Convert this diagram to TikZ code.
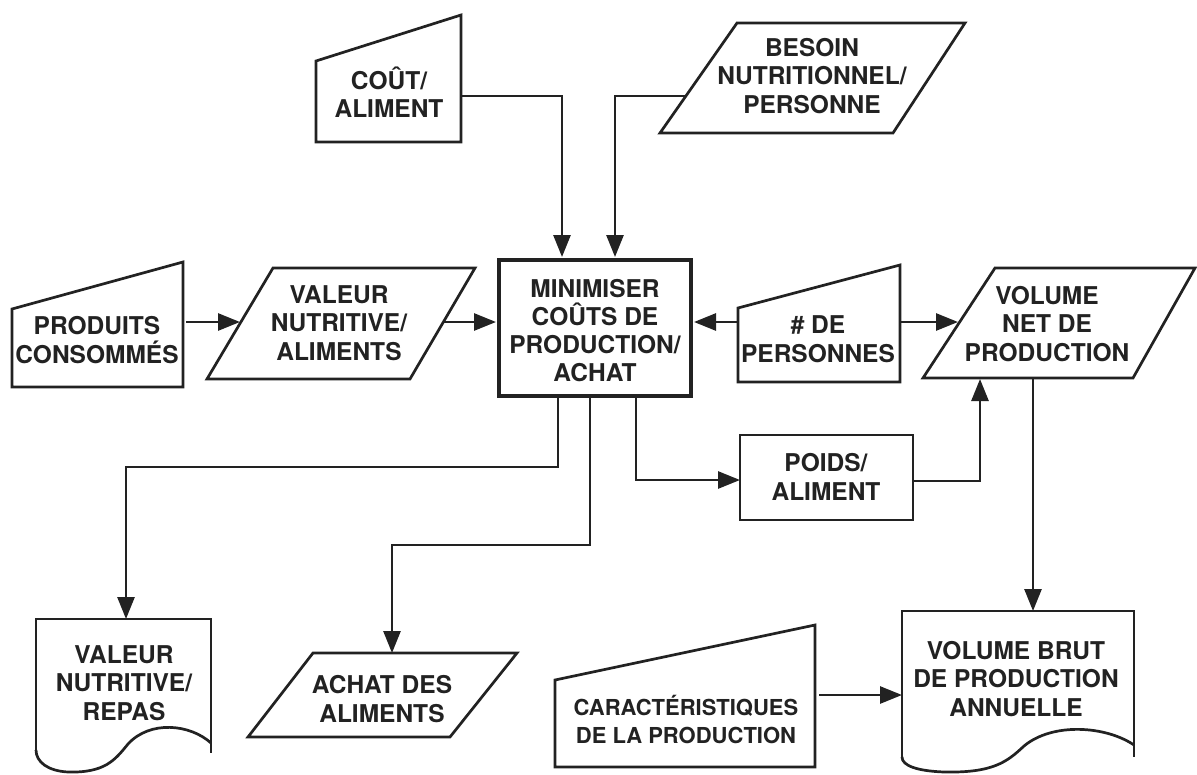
\documentclass[tikz,border=0pt]{standalone}
\usepackage{fontspec}
\setmainfont{TeX Gyre Heros}
\usetikzlibrary{arrows.meta}
\definecolor{ink}{HTML}{222222}
\begin{document}
\begin{tikzpicture}[x=1pt,y=-1pt,
  shape line/.style={draw=ink, line width=2.7pt, line join=miter},
  heavy line/.style={draw=ink, line width=4.5pt},
  label text/.style={align=center, inner sep=0pt, text=ink,
    font=\bfseries\fontsize{24.5}{28.5}\selectfont},
  conn/.style={draw=ink, line width=2.7pt, -{Triangle[length=22pt,width=17pt]}}]
\useasboundingbox (0,0) rectangle (1197,774);
\fill[white] (0,0) rectangle (1197,774);

% ---- top inputs
\draw[shape line] (316,61) -- (461,15) -- (461,142) -- (316,142) -- cycle;
\node[label text] (cout) at (389,92) {COÛT/\\ALIMENT};
\coordinate (cout-e) at (461,96);

\draw[shape line] (737,23) -- (965,23) -- (893,133) -- (660,133) -- cycle;
\node[label text] (besoin) at (812,76) {BESOIN\\NUTRITIONNEL/\\PERSONNE};
\coordinate (besoin-w) at (686,96);

% ---- central process
\draw[heavy line] (499,260) rectangle (691,396);
\node[label text, font=\bfseries\fontsize{24.5}{28}\selectfont] (minim) at (595,331)
  {MINIMISER\\COÛTS DE\\PRODUCTION/\\ACHAT};
\coordinate (min-n1) at (562,257);
\coordinate (min-n2) at (615,257);
\coordinate (min-w) at (496,322);
\coordinate (min-e) at (694,322);
\coordinate (min-s1) at (558,398);
\coordinate (min-s2) at (590,398);
\coordinate (min-s3) at (636,398);

% ---- middle row
\draw[shape line] (12,309) -- (183,262) -- (183,387) -- (12,387) -- cycle;
\node[label text] (produits) at (97,340) {PRODUITS\\CONSOMMÉS};
\coordinate (produits-e) at (186,322);

\draw[shape line] (273,268) -- (475,268) -- (410,379) -- (207,379) -- cycle;
\node[label text] (valim) at (339,323) {VALEUR\\NUTRITIVE/\\ALIMENTS};
\coordinate (valim-w) at (240,322);
\coordinate (valim-e) at (444,322);

\draw[shape line] (738,308) -- (900,265) -- (900,382) -- (738,382) -- cycle;
\node[label text] (pers) at (818,339) {\# DE\\PERSONNES};
\coordinate (pers-w) at (738,322);
\coordinate (pers-e) at (900,322);

\draw[shape line] (995,268) -- (1195,268) -- (1133,378) -- (923,378) -- cycle;
\node[label text] (volnet) at (1047,324) {VOLUME\\NET DE\\PRODUCTION};
\coordinate (volnet-w) at (958,322);
\coordinate (volnet-s1) at (980,379);
\coordinate (volnet-s2) at (1033,379);

\draw[shape line] (740,435) rectangle (913,520);
\node[label text] (poids) at (826,477) {POIDS/\\ALIMENT};
\coordinate (poids-w) at (740,480);
\coordinate (poids-e) at (913,481);

% ---- bottom row
\draw[shape line] (36,750) -- (36,619) -- (211,619) -- (211,753);
\draw[shape line] (211,743) .. controls (190,724) and (150,720) .. (128,744)
  .. controls (115,760) and (105,773) .. (68,772)
  .. controls (48,771) and (36,762) .. (36,750);
\node[label text] (repas) at (124,683) {VALEUR\\NUTRITIVE/\\REPAS};
\coordinate (repas-n) at (126,619);

\draw[shape line] (313,653) -- (517,653) -- (450,737) -- (248,737) -- cycle;
\node[label text] (achat) at (382,699) {ACHAT DES\\ALIMENTS};
\coordinate (achat-n) at (392,653);

\draw[shape line] (555,680) -- (815,625) -- (815,767) -- (555,767) -- cycle;
\node[label text, font=\bfseries\fontsize{22}{28}\selectfont] (caract) at (686,719)
  {CARACTÉRISTIQUES\\DE LA PRODUCTION};
\coordinate (caract-e) at (819,695);

\draw[shape line] (902,757) -- (902,611) -- (1134,611) -- (1134,757);
\draw[shape line] (1134,745) .. controls (1106,726) and (1053,722) .. (1024,746)
  .. controls (1007,762) and (993,773) .. (944,772)
  .. controls (918,771) and (902,766) .. (902,757);
\node[label text] (volbrut) at (1016,679) {VOLUME BRUT\\DE PRODUCTION\\ANNUELLE};
\coordinate (volbrut-n) at (1033,611);
\coordinate (volbrut-w) at (902,695);

% ---- bend points
\coordinate (bend-repas) at (558,467);
\coordinate (bend-achat) at (590,545);

% ---- connectors
\draw[conn] (cout-e) -| (min-n1);
\draw[conn] (besoin-w) -| (min-n2);
\draw[conn] (produits-e) -- (valim-w);
\draw[conn] (valim-e) -- (min-w);
\draw[conn] (pers-w) -- (min-e);
\draw[conn] (pers-e) -- (volnet-w);
\draw[conn] (min-s1) -- (bend-repas) -| (repas-n);
\draw[conn] (min-s2) -- (bend-achat) -| (achat-n);
\draw[conn] (min-s3) |- (poids-w);
\draw[conn] (poids-e) -| (volnet-s1);
\draw[conn] (volnet-s2) -- (volbrut-n);
\draw[conn] (caract-e) -- (volbrut-w);
\end{tikzpicture}
\end{document}
